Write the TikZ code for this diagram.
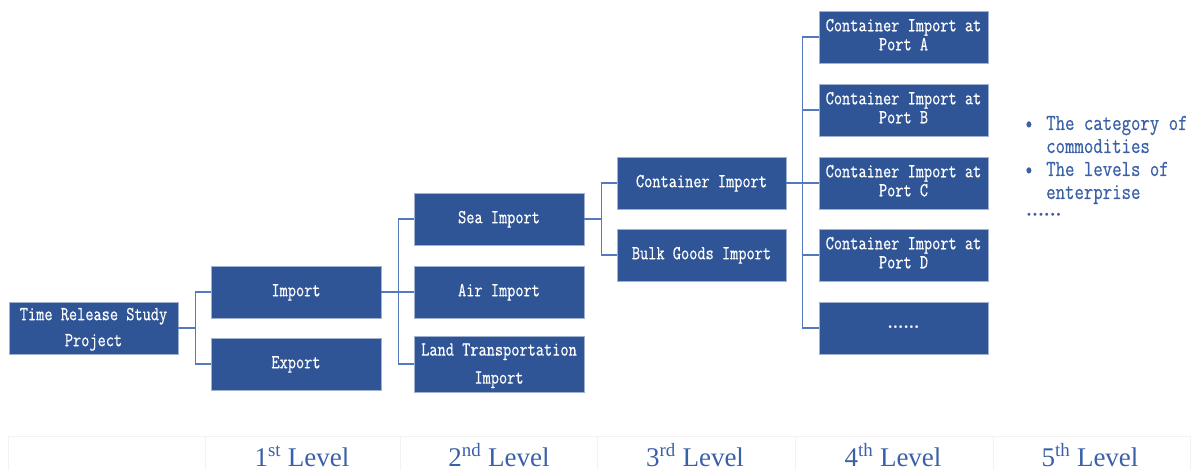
\documentclass[tikz,border=0pt]{standalone}
\usepackage{fontspec}
\usepackage{graphicx}
\setmainfont{Liberation Serif}
\newfontfamily\boxfont[FakeBold=0.6]{Latin Modern Mono}
\newfontfamily\dotfont{DejaVu Sans}
\definecolor{boxblue}{HTML}{2F5597}
\definecolor{linkblue}{HTML}{5479BC}
\definecolor{txtblue}{HTML}{3A60A8}
\definecolor{gridgray}{HTML}{F2F2F2}
\newcommand{\bt}[2]{\scalebox{1}[1.25]{\fontsize{15.9}{#1}\selectfont\boxfont\begin{tabular}{@{}c@{}}#2\end{tabular}}}
\newcommand{\rt}[1]{\scalebox{1}[1.25]{\fontsize{18.3}{20}\selectfont\boxfont #1}}
\newcommand{\lv}[2]{\fontsize{27}{30}\selectfont #1\textsuperscript{#2} Level}
\begin{document}
\begin{tikzpicture}[x=1pt,y=-1pt,
  tbox/.style={fill=boxblue,draw=boxblue!45!white,line width=0.8pt,text=white,
    inner sep=0pt,minimum height=52pt},
  w1/.style={tbox,minimum width=170pt},
  w2/.style={tbox,minimum width=169pt},
  link/.style={draw=linkblue,line width=1.8pt},
  side/.style={text=txtblue,inner sep=0pt,anchor=base west},
  lvl/.style={text=txtblue,inner sep=0pt,anchor=base},
  grid/.style={draw=gridgray,line width=1pt}]
\useasboundingbox (0,0) rectangle (1200,470);
% bottom grid
\draw[grid] (8,436) -- (1190,436);
\foreach \gx in {8,205,400,597,795,993,1190}{\draw[grid] (\gx,436) -- (\gx,470);}
% nodes
\node[w2] (root) at (93.5,328) {\bt{20.8}{Time Release Study\\Project}};
\node[w1] (imp) at (296,292) {\bt{17}{Import}};
\node[w1] (exp) at (296,364) {\bt{17}{Export}};
\node[w1] (sea) at (499,219) {\bt{17}{Sea Import}};
\node[w1] (air) at (499,292) {\bt{17}{Air Import}};
\node[w1] (land) at (499,364) {\bt{22.4}{Land Transportation\\Import}};
\node[w2] (cont) at (701.5,183) {\bt{17}{Container Import}};
\node[w2] (bulk) at (701.5,255) {\bt{17}{Bulk Goods Import}};
\node[w2] (pa) at (903.5,37) {\bt{15.2}{Container Import at\\Port A}};
\node[w2] (pb) at (903.5,110) {\bt{15.2}{Container Import at\\Port B}};
\node[w2] (pc) at (903.5,183) {\bt{15.2}{Container Import at\\Port C}};
\node[w2] (pd) at (903.5,255) {\bt{15.2}{Container Import at\\Port D}};
\node[w2] (pe) at (903.5,328) {\fontsize{9}{10}\selectfont\dotfont ••••••};
% connectors
\draw[link] (root.east) -- ++(17,0) |- (imp.west);
\draw[link] (root.east) -- ++(17,0) |- (exp.west);
\draw[link] (imp.east) -- ++(17,0) |- (sea.west);
\draw[link] (imp.east) -- (air.west);
\draw[link] (imp.east) -- ++(17,0) |- (land.west);
\draw[link] (sea.east) -- ++(17,0) |- (cont.west);
\draw[link] (sea.east) -- ++(17,0) |- (bulk.west);
\draw[link] (cont.east) -- ++(16,0) |- (pa.west);
\draw[link] (cont.east) -- ++(16,0) |- (pb.west);
\draw[link] (cont.east) -- (pc.west);
\draw[link] (cont.east) -- ++(16,0) |- (pd.west);
\draw[link] (cont.east) -- ++(16,0) |- (pe.west);
% side notes
\node[side] (b1) at (1024,130) {\rt{•}};
\node[side] (t1) at (1046,130) {\rt{The category of}};
\node[side] (t2) at (1046,153) {\rt{commodities}};
\node[side] (b2) at (1024,176) {\rt{•}};
\node[side] (t3) at (1046,176) {\rt{The levels of}};
\node[side] (t4) at (1046,199) {\rt{enterprise}};
\node[side] (dots) at (1026,219) {\fontsize{10}{12}\selectfont\dotfont ••••••};
% level labels
\node[lvl] (l1) at (302,466) {\lv{1}{st}};
\node[lvl] (l2) at (499,466) {\lv{2}{nd}};
\node[lvl] (l3) at (695,466) {\lv{3}{rd}};
\node[lvl] (l4) at (893,466) {\lv{4}{th}};
\node[lvl] (l5) at (1090,466) {\lv{5}{th}};
\end{tikzpicture}
\end{document}
